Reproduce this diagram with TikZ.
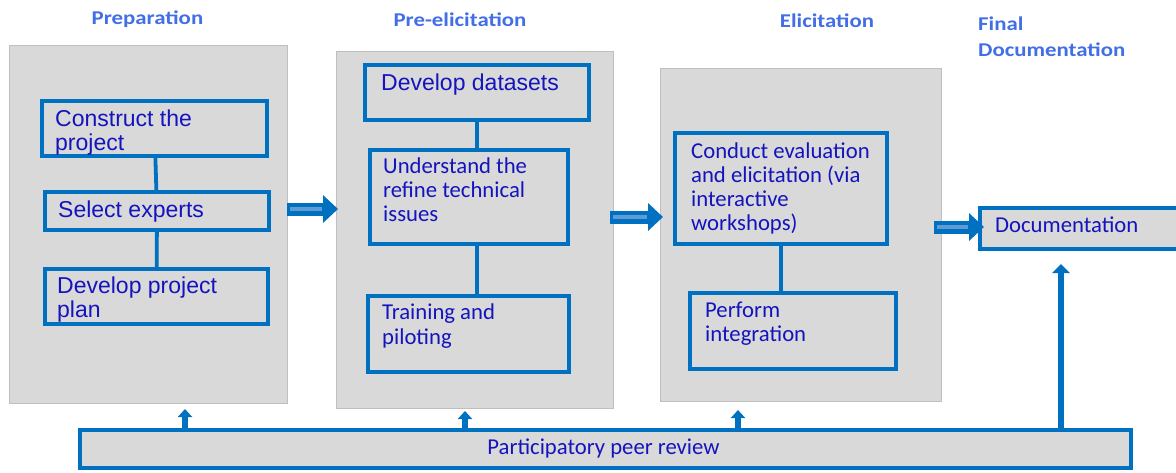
\documentclass[tikz,border=0pt]{standalone}
\usepackage{fontspec}
\setmainfont{Liberation Sans}
\newfontfamily\calfont{Carlito}
\newfontfamily\ttlfont[FakeStretch=1.17]{Carlito}
\usetikzlibrary{arrows.meta}
\definecolor{bb}{RGB}{0,112,192}
\definecolor{txtc}{RGB}{20,20,190}
\definecolor{ttlc}{RGB}{66,110,230}
\definecolor{pnl}{RGB}{217,217,217}
\definecolor{pnlb}{RGB}{191,191,191}
\definecolor{stripec}{RGB}{95,155,212}
\tikzset{
 panel/.style={fill=pnl, draw=pnlb, line width=0.8pt, inner sep=0, outer sep=0},
 ibox/.style={draw=bb, line width=3.8pt, fill=pnl, inner sep=0, outer sep=0},
 conn/.style={draw=bb, line width=3.8pt},
 atxt/.style={text=txtc, font=\fontsize{23}{24}\selectfont, align=left, inner sep=0, anchor=base west},
 ctxt/.style={text=txtc, font=\calfont\fontsize{22.7}{24}\selectfont, align=left, inner sep=0, anchor=base west},
 ttl/.style={text=ttlc, font=\ttlfont\bfseries\fontsize{19.5}{26}\selectfont, align=left, inner sep=0},
 blockarrow/.style={draw=bb, line width=13pt, -{Triangle[width=27pt,length=15pt]}},
 stripe/.style={draw=stripec, line width=4pt},
 uparrow/.style={draw=bb, line width=5.5pt, -{Triangle[width=14pt,length=8pt]}},
}
\begin{document}
\begin{tikzpicture}[x=1pt,y=-1pt]
\useasboundingbox (0,0) rectangle (1176,472);
% titles
\node[ttl, anchor=base] (t1) at (147.5,24) {Preparation};
\node[ttl, anchor=base] (t2) at (460,26) {Pre-elicitation};
\node[ttl, anchor=base] (t3) at (827,27) {Elicitation};
\node[ttl, anchor=base west] (t4) at (978,56) {Final\\Documentation};
% panels
\node[panel, minimum width=278, minimum height=358] (p1) at (148,224) {};
\node[panel, minimum width=277, minimum height=357] (p2) at (474.5,229.5) {};
\node[panel, minimum width=281, minimum height=333] (p3) at (800.5,234.5) {};
% inner boxes
\node[ibox, minimum width=225, minimum height=55] (b1) at (154.5,128.5) {};
\node[ibox, minimum width=224, minimum height=38] (b2) at (157,211) {};
\node[ibox, minimum width=223, minimum height=55] (b3) at (156.5,296.5) {};
\node[ibox, minimum width=224, minimum height=55] (b4) at (477,92.5) {};
\node[ibox, minimum width=198, minimum height=94] (b5) at (469,197) {};
\node[ibox, minimum width=201, minimum height=76] (b6) at (468.5,334) {};
\node[ibox, minimum width=212, minimum height=111] (b7) at (781,188.5) {};
\node[ibox, minimum width=206, minimum height=76] (b8) at (793,331) {};
\node[ibox, minimum width=220, minimum height=41] (b9) at (1090,228.5) {};
\node[ibox, minimum width=1051, minimum height=38] (b10) at (605.5,449) {};
% connectors
\draw[conn] (b1) -- (b2);
\draw[conn] (b2) -- (b3);
\draw[conn] (b4.south) -- (b4.south |- b5.north);
\draw[conn] (b5.south -| b4.south) -- (b6.north -| b4.south);
\draw[conn] (b7.south) -- (b7.south |- b8.north);
% texts (anchor = baseline of the last line)
\node[atxt] (x1) at (55,150) {Construct the\\project};
\node[atxt] (x2) at (58,217) {Select experts};
\node[atxt] (x3) at (57,317) {Develop project\\plan};
\node[atxt] (x4) at (381,90) {Develop datasets};
\node[ctxt] (x5) at (383,221) {Understand the\\refine technical\\issues};
\node[ctxt] (x6) at (382,344) {Training and\\[1pt]piloting};
\node[ctxt] (x7) at (691,230) {Conduct evaluation\\and elicitation (via\\interactive\\workshops)};
\node[ctxt] (x8) at (705,341) {Perform\\integration};
\node[ctxt] (x9) at (995,232) {Documentation};
\node[ctxt, anchor=base] (x10) at (603.5,454) {Participatory peer review};
% block arrows
\coordinate (a1) at (0,209);
\coordinate (a2) at (0,217);
\coordinate (a3) at (0,227);
\draw[blockarrow] (p1.east |- a1) -- ([xshift=2pt]p2.west |- a1);
\draw[stripe, shorten <=3pt, shorten >=16pt] (p1.east |- a1) -- ([xshift=2pt]p2.west |- a1);
\draw[blockarrow] ([xshift=-3pt]p2.east |- a2) -- ([xshift=3pt]p3.west |- a2);
\draw[stripe, shorten <=3pt, shorten >=16pt] ([xshift=-3pt]p2.east |- a2) -- ([xshift=3pt]p3.west |- a2);
\draw[blockarrow] ([xshift=-7pt]p3.east |- a3) -- ([xshift=4pt]b9.west |- a3);
\draw[stripe, shorten <=3pt, shorten >=16pt] ([xshift=-7pt]p3.east |- a3) -- ([xshift=4pt]b9.west |- a3);
% up arrows from peer review
\coordinate (u1) at (185,409);
\coordinate (u2) at (465,411);
\coordinate (u3) at (738,410);
\coordinate (u4) at (1061,264);
\draw[uparrow] (b10.north -| u1) -- (u1);
\draw[uparrow] (b10.north -| u2) -- (u2);
\draw[uparrow] (b10.north -| u3) -- (u3);
\draw[uparrow, line width=6.5pt, -{Triangle[width=17pt,length=9pt]}] (b10.north -| u4) -- (u4);
\end{tikzpicture}
\end{document}
